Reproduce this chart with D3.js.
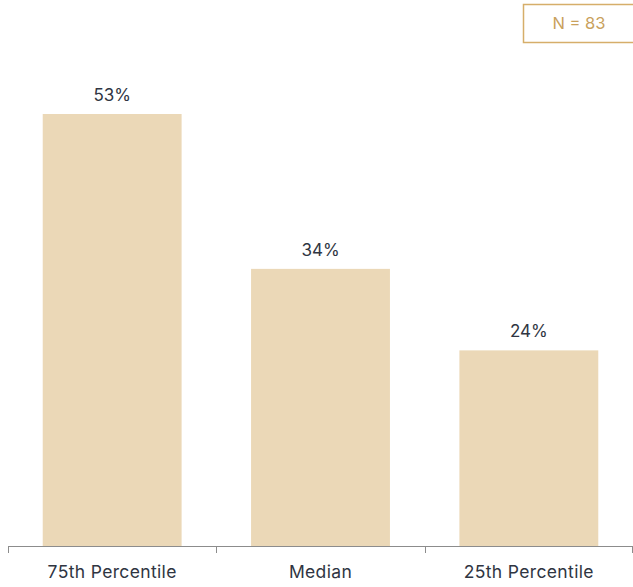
<!DOCTYPE html>
<html>
<head>
<meta charset="utf-8">
<script src="https://cdn.jsdelivr.net/npm/d3@7"></script>
<style>
  html, body { margin: 0; padding: 0; background: #ffffff; }
  svg { display: block; font-family: "Inter", "Open Sans", sans-serif; }
</style>
</head>
<body>
<svg id="chart" width="633" height="587"></svg>
<script>
const categories = ["75th Percentile", "Median", "25th Percentile"];
const values = [53, 34, 24];
const sampleLabel = "N = 83";

const width = 633, height = 587;
const margin = { top: 114, right: 0, bottom: 41, left: 8 };
const baseY = height - margin.bottom;

const svg = d3.select("#chart");

const x = d3.scaleBand()
  .domain(categories)
  .range([margin.left, width])
  .padding(0);

const y = d3.scaleLinear()
  .domain([0, 53])
  .range([baseY, margin.top]);

const barW = x.bandwidth() * 2 / 3;

// bars
svg.append("g")
  .selectAll("rect")
  .data(values)
  .join("rect")
  .attr("x", (d, i) => x(categories[i]) + (x.bandwidth() - barW) / 2)
  .attr("y", d => y(d))
  .attr("width", barW)
  .attr("height", d => baseY - y(d))
  .attr("fill", "#ebd8b7");

// value labels
svg.append("g")
  .selectAll("text")
  .data(values)
  .join("text")
  .attr("x", (d, i) => x(categories[i]) + x.bandwidth() / 2)
  .attr("y", d => y(d) - 13)
  .attr("text-anchor", "middle")
  .attr("font-size", 17)
  .attr("fill", "#2f3542")
  .text(d => d + "%");

// category axis with boundary ticks
const axis = svg.append("g");
axis.append("line")
  .attr("x1", margin.left).attr("x2", width)
  .attr("y1", baseY + 0.5).attr("y2", baseY + 0.5)
  .attr("stroke", "#8c8c8c").attr("stroke-width", 1);
const edges = categories.map(c => x(c)).concat([width]);
axis.selectAll("line.tick")
  .data(edges)
  .join("line")
  .attr("class", "tick")
  .attr("x1", d => Math.min(Math.round(d) + 0.5, width - 0.5))
  .attr("x2", d => Math.min(Math.round(d) + 0.5, width - 0.5))
  .attr("y1", baseY).attr("y2", baseY + 7)
  .attr("stroke", "#8c8c8c").attr("stroke-width", 1);
axis.selectAll("text")
  .data(categories)
  .join("text")
  .attr("x", d => x(d) + x.bandwidth() / 2)
  .attr("y", baseY + 32)
  .attr("text-anchor", "middle")
  .attr("font-size", 17.5)
  .attr("letter-spacing", 0.35)
  .attr("fill", "#2f3542")
  .text(d => d);

// sample size box
const box = svg.append("g");
box.append("rect")
  .attr("x", 523.5).attr("y", 4.5)
  .attr("width", 120).attr("height", 38)
  .attr("fill", "none")
  .attr("stroke", "#d6ae6a").attr("stroke-width", 1.5);
box.append("text")
  .attr("x", 579).attr("y", 29)
  .attr("text-anchor", "middle")
  .attr("font-size", 16.5)
  .attr("fill", "#c9a15c")
  .text(sampleLabel);
</script>
</body>
</html>
